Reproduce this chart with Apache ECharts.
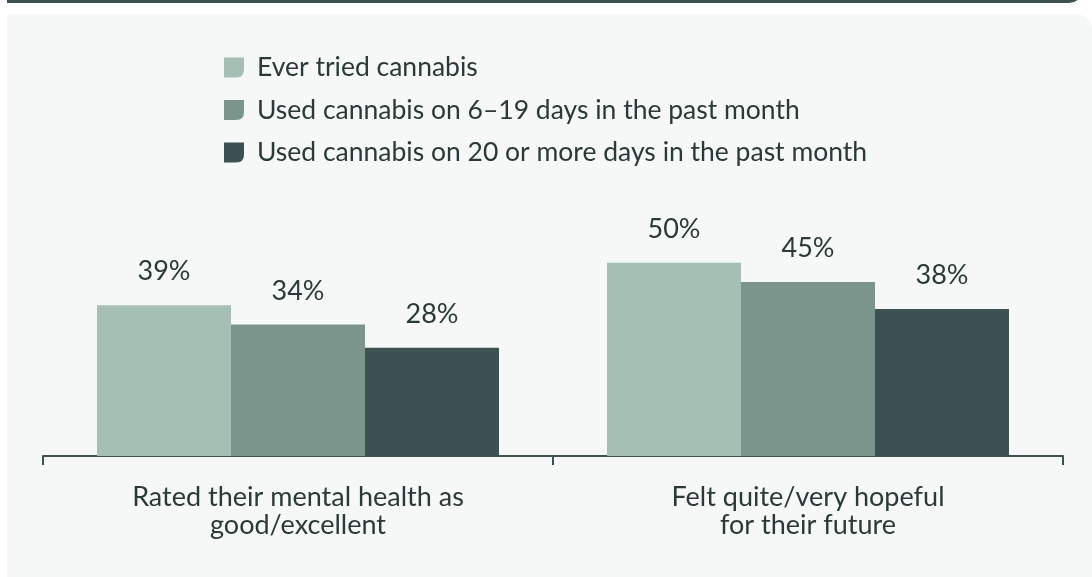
<!DOCTYPE html>
<html>
<head>
<meta charset="utf-8">
<script src="https://cdn.jsdelivr.net/npm/echarts@6/dist/echarts.min.js"></script>
<style>
  html, body { margin: 0; padding: 0; width: 1092px; height: 577px; background: #ffffff; overflow: hidden; }
  #topRule {
    position: absolute; left: 7px; top: -27px; width: 1076px; height: 30px;
    border-bottom: 3px solid #3d5052; border-bottom-right-radius: 14px; box-sizing: border-box;
  }
  #panel {
    position: absolute; left: 7px; top: 14px; right: 0; bottom: 0;
    background: #f5f8f7; border-top-right-radius: 16px;
  }
  #chart { position: absolute; left: 0; top: 0; width: 1092px; height: 577px; }
</style>
</head>
<body>
<div id="topRule"></div>
<div id="panel"></div>
<div id="chart"></div>
<script>
// Share of respondents, by cannabis use group
const categories = ['Rated their mental health as\ngood/excellent', 'Felt quite/very hopeful\nfor their future'];
const seriesNames = [
  'Ever tried cannabis',
  'Used cannabis on 6–19 days in the past month',
  'Used cannabis on 20 or more days in the past month'
];
const everTried = [39, 50];
const used6to19 = [34, 45];
const used20plus = [28, 38];

const colors = ['#a6bfb5', '#7b958d', '#3d5052'];
const textColor = '#2b3a38';
const fontFamily = 'Lato, "Noto Sans", sans-serif';
// square marker with a rounded lower-right corner
const legendIcon = 'path://M0,0 L20,0 L20,12 Q20,20 12,20 L0,20 Z';

const values = [everTried, used6to19, used20plus];

const chart = echarts.init(document.getElementById('chart'), null, { renderer: 'canvas' });
chart.setOption({
  backgroundColor: 'transparent',
  animation: false,
  textStyle: { fontFamily: fontFamily },
  legend: {
    orient: 'vertical',
    left: 224,
    top: 54,
    padding: 0,
    itemWidth: 20,
    itemHeight: 20,
    itemGap: 15.5,
    icon: legendIcon,
    textStyle: { fontSize: 26.5, color: textColor, fontFamily: fontFamily, padding: [0, 0, 0, 8] },
    data: seriesNames
  },
  grid: { left: 43, right: 29, top: 224, bottom: 121, containLabel: false },
  xAxis: {
    type: 'category',
    data: categories,
    axisLine: { lineStyle: { color: '#3d5052', width: 2 } },
    axisTick: { show: true, length: 9, lineStyle: { color: '#3d5052', width: 2 } },
    axisLabel: { fontSize: 27, color: textColor, lineHeight: 27.5, margin: 28, fontFamily: fontFamily }
  },
  yAxis: { type: 'value', min: 0, max: 60, show: false },
  series: seriesNames.map((name, i) => ({
    name: name,
    type: 'bar',
    data: values[i],
    barWidth: 134,
    barGap: '0%',
    itemStyle: { color: colors[i] },
    label: {
      show: true,
      position: 'top',
      distance: 20,
      formatter: '{c}%',
      fontSize: 27,
      color: textColor,
      fontFamily: fontFamily
    }
  }))
});
</script>
</body>
</html>
